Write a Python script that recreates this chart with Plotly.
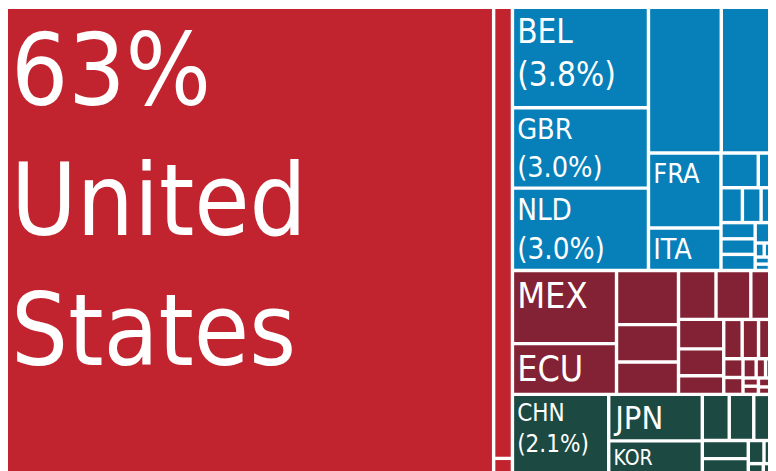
import plotly.graph_objects as go

# ---------------- data (shares of total, %) ----------------
group_names = ["North America", "Europe", "Americas", "Asia"]
group_colors = ["#C1232F", "#0780BA", "#832234", "#1C4A42"]

sliver_names = ["Oceania", "Africa"]
sliver_values = [0.19, 0.078]
sliver_colors = ["#1A9A8F", "#EDB07E"]

na_labels = ["United States", "North America 2", "North America 3"]
na_values = [63.0, 2.34, 0.09]
na_text = ["63%<br>United<br>States", "", ""]

eu_labels = ["BEL", "GBR", "NLD", "Europe 4", "Europe 5", "FRA", "ITA"] + [f"Europe {i}" for i in range(8, 25)]
eu_values = [3.77, 3.02, 3.09, 2.93, 2.35, 1.50, 0.85, 0.357, 0.205, 0.206, 0.18, 0.179,
             0.153, 0.147, 0.152, 0.094, 0.044, 0.035, 0.03, 0.03, 0.028, 0.025, 0.02, 0.018]
eu_text = ["BEL<br>(3.8%)", "GBR<br>(3.0%)", "NLD<br>(3.0%)", "", "", "FRA", "ITA"]

am_labels = ["MEX", "ECU"] + [f"Americas {i}" for i in range(3, 25)]
am_values = [2.10, 1.46, 0.926, 0.64, 0.554, 0.506, 0.47, 0.326, 0.368, 0.335, 0.233,
             0.20, 0.178, 0.178, 0.1, 0.09, 0.07, 0.05, 0.05, 0.035, 0.035, 0.03, 0.025, 0.02]
am_text = ["MEX", "ECU"]

as_labels = ["CHN", "JPN", "KOR"] + [f"Asia {i}" for i in range(4, 13)]
as_values = [2.16, 1.20, 0.90, 0.343, 0.312, 0.27, 0.23, 0.216, 0.1, 0.07, 0.05, 0.039]
as_text = ["CHN<br>(2.1%)", "JPN", "KOR"]

# label font sizes (px)
label_sizes = {"United States": 100, "BEL": 33, "GBR": 33, "NLD": 33, "FRA": 27, "ITA": 31,
               "MEX": 36, "ECU": 37, "CHN": 24, "JPN": 35, "KOR": 21}

# ---------------- build treemap table ----------------
ids, labels, parents, values, texts, colors, sizes = [], [], [], [], [], [], []

def add_group(gname, gcolor, glabels, gvalues, gtext):
    ids.append(gname); labels.append(gname); parents.append("")
    values.append(0); texts.append(""); colors.append("white"); sizes.append(12)
    for i, (lab, val) in enumerate(zip(glabels, gvalues)):
        ids.append(gname + "/" + lab); labels.append(lab); parents.append(gname)
        values.append(val)
        texts.append(gtext[i] if i < len(gtext) else "")
        colors.append(gcolor)
        sizes.append(label_sizes.get(lab, 12))

add_group(group_names[0], group_colors[0], na_labels, na_values, na_text)
add_group(group_names[1], group_colors[1], eu_labels, eu_values, eu_text)
add_group(group_names[2], group_colors[2], am_labels, am_values, am_text)
add_group(group_names[3], group_colors[3], as_labels, as_values, as_text)
for n, v, c in zip(sliver_names, sliver_values, sliver_colors):
    ids.append(n); labels.append(n); parents.append(""); values.append(v)
    texts.append(""); colors.append(c); sizes.append(12)

fig = go.Figure(go.Treemap(
    ids=ids, labels=labels, parents=parents, values=values,
    branchvalues="remainder", sort=False,
    text=texts, texttemplate="%{text}", textposition="top left",
    textfont=dict(family="Liberation Sans Narrow, Arial Narrow, DejaVu Sans Condensed, sans-serif",
                  color="white", size=sizes),
    marker=dict(colors=colors, line=dict(width=0, color="white"),
                pad=dict(t=0, l=0, r=0, b=0)),
    tiling=dict(packing="squarify", squarifyratio=1.618034, pad=3.4),
    pathbar=dict(visible=False),
    hoverinfo="skip",
    root=dict(color="white"),
))

fig.update_layout(
    width=770, height=466,
    margin=dict(l=0, r=0, t=1, b=0),
    paper_bgcolor="white",
    showlegend=False,
)

fig.write_html("out.html", post_script="document.body.style.overflow='hidden';")
